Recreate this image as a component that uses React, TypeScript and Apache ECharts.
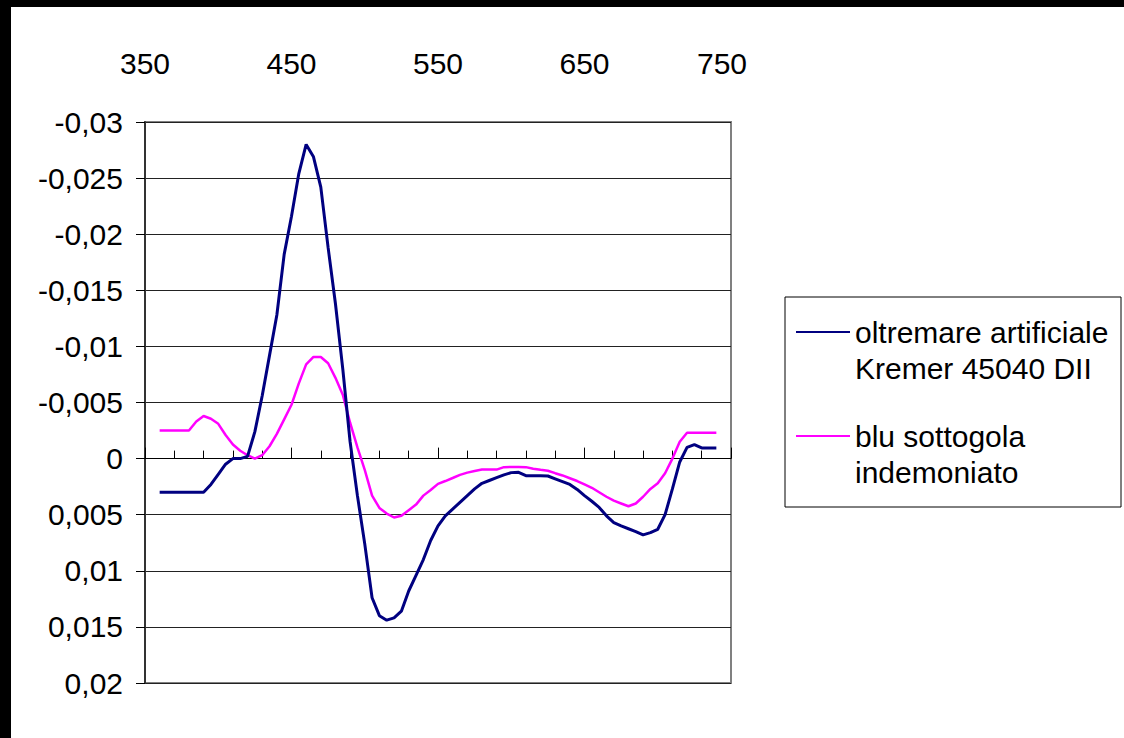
import React, { useEffect, useRef } from "react";
import * as echarts from "echarts";

// wavelengths (nm)
const wavelengths: number[] = [
  360, 365, 370, 375, 380, 385, 390, 395, 400, 405, 410, 415, 420, 425, 430, 435, 440, 445, 450, 455,
  460, 465, 470, 475, 480, 485, 490, 495, 500, 505, 510, 515, 520, 525, 530, 535, 540, 545, 550, 555,
  560, 565, 570, 575, 580, 585, 590, 595, 600, 605, 610, 615, 620, 625, 630, 635, 640, 645, 650, 655,
  660, 665, 670, 675, 680, 685, 690, 695, 700, 705, 710, 715, 720, 725, 730, 735, 740,
];

const seriesNames: string[] = ["oltremare artificiale Kremer 45040 DII", "blu sottogola indemoniato"];
const legendLines: string[][] = [
  ["oltremare artificiale", "Kremer 45040 DII"],
  ["blu sottogola", "indemoniato"],
];
const seriesColors: string[] = ["#000080", "#FF00FF"];

const oltremare: number[] = [
  0.003, 0.003, 0.003, 0.003, 0.003, 0.003, 0.003, 0.0023, 0.0014, 0.0005, 0.0, 0.0, -0.0002, -0.0024,
  -0.0056, -0.0092, -0.0128, -0.0182, -0.0216, -0.0254, -0.028, -0.0269, -0.0242, -0.0188, -0.0138,
  -0.008, -0.0015, 0.0033, 0.0076, 0.0124, 0.014, 0.0144, 0.0142, 0.0136, 0.0118, 0.0104, 0.009,
  0.0073, 0.006, 0.0051, 0.0045, 0.0039, 0.0033, 0.0027, 0.0022, 0.00195, 0.0017, 0.00145, 0.00125,
  0.00122, 0.00152, 0.00152, 0.00152, 0.00155, 0.0018, 0.00205, 0.0023, 0.00275, 0.0033, 0.0038,
  0.00435, 0.0051, 0.0057, 0.006, 0.00625, 0.0065, 0.0068, 0.0066, 0.0063, 0.005, 0.0027, 0.0003,
  -0.001, -0.00125, -0.00095, -0.00095, -0.00095,
];

const sottogola: number[] = [
  -0.0025, -0.0025, -0.0025, -0.0025, -0.0025, -0.0033, -0.0038, -0.00355, -0.0031, -0.0021, -0.00125,
  -0.0007, -0.0003, 0.0, -0.0003, -0.0011, -0.0022, -0.0035, -0.0048, -0.0067, -0.0084, -0.00906,
  -0.00906, -0.0085, -0.0072, -0.0057, -0.0032, -0.001, 0.001, 0.0033, 0.0044, 0.0049, 0.00525, 0.0051,
  0.0046, 0.0041, 0.0033, 0.0028, 0.00225, 0.002, 0.00173, 0.00145, 0.00125, 0.0011, 0.00098, 0.00098,
  0.00098, 0.00076, 0.00074, 0.00074, 0.00076, 0.0009, 0.001, 0.00108, 0.0013, 0.0015, 0.00175, 0.002,
  0.0023, 0.0026, 0.003, 0.0034, 0.00375, 0.004, 0.00425, 0.004, 0.0034, 0.0027, 0.0022, 0.0013, 0.0,
  -0.0015, -0.0023, -0.0023, -0.0023, -0.0023, -0.0023,
];

const FONT = "'Liberation Sans', Arial, sans-serif";

export default function App() {
  const ref = useRef<HTMLDivElement>(null);

  useEffect(() => {
    if (!ref.current) return;
    const chart = echarts.init(ref.current, undefined, { renderer: "svg" });
    const toPairs = (vals: number[]) => wavelengths.map((w, i) => [w, vals[i]]);
    const fmt = (v: number) => String(Math.round(v * 1000) / 1000).replace(".", ",");

    const legendGraphics: any[] = [
      {
        type: "rect",
        shape: { x: 785, y: 297, width: 336, height: 210 },
        style: { fill: "#fff", stroke: "#000", lineWidth: 1 },
      },
    ];
    legendLines.forEach((lines, i) => {
      const y0 = 332 + i * 104;
      legendGraphics.push({
        type: "line",
        shape: { x1: 796, y1: y0, x2: 850, y2: y0 },
        style: { stroke: seriesColors[i], lineWidth: 2 },
      });
      lines.forEach((t, j) => {
        legendGraphics.push({
          type: "text",
          x: 855,
          y: y0 + j * 36,
          style: {
            text: t,
            fill: "#000",
            fontSize: 30,
            fontFamily: FONT,
            verticalAlign: "middle",
            align: "left",
          },
        });
      });
    });

    chart.setOption({
      animation: false,
      backgroundColor: "#fff",
      grid: {
        left: 145,
        right: 393,
        top: 122,
        bottom: 55,
        show: true,
        borderColor: "#808080",
        borderWidth: 2,
        backgroundColor: "#fff",
      },
      xAxis: [
        {
          type: "value",
          min: 350,
          max: 750,
          interval: 100,
          position: "bottom",
          axisLine: { show: true, onZero: true, lineStyle: { color: "#000", width: 1 } },
          axisTick: { show: true, inside: true, length: 11, lineStyle: { color: "#000", width: 1 } },
          minorTick: { show: true, splitNumber: 5, length: 8, lineStyle: { color: "#000", width: 1 } },
          axisLabel: { show: false },
          splitLine: { show: false },
        },
        {
          type: "value",
          min: 350,
          max: 750,
          interval: 100,
          position: "top",
          axisLine: { show: false, onZero: false },
          axisTick: { show: false },
          axisLabel: {
            show: true,
            color: "#000",
            fontSize: 30,
            fontFamily: FONT,
            margin: 44,
            formatter: (v: number) => (v === 750 ? "{r|" + v + "}" : String(v)),
            rich: { r: { fontSize: 30, fontFamily: FONT, color: "#000", padding: [0, 18, 0, 0] } },
          },
          splitLine: { show: false },
        },
      ],
      yAxis: {
        type: "value",
        inverse: true,
        min: -0.03,
        max: 0.02,
        interval: 0.005,
        axisLine: { show: true, lineStyle: { color: "#333", width: 2 } },
        axisTick: { show: true, length: 9, lineStyle: { color: "#000", width: 1 } },
        axisLabel: { color: "#000", fontSize: 30, fontFamily: FONT, margin: 22, formatter: fmt },
        splitLine: { show: true, lineStyle: { color: "#222", width: 1 } },
      },
      series: [
        {
          name: seriesNames[0],
          type: "line",
          xAxisIndex: 0,
          data: toPairs(oltremare),
          showSymbol: false,
          lineStyle: { color: seriesColors[0], width: 3 },
          itemStyle: { color: seriesColors[0] },
          z: 3,
        },
        {
          name: seriesNames[1],
          type: "line",
          xAxisIndex: 0,
          data: toPairs(sottogola),
          showSymbol: false,
          lineStyle: { color: seriesColors[1], width: 2.5 },
          itemStyle: { color: seriesColors[1] },
          z: 2,
        },
      ],
      graphic: [
        { type: "rect", shape: { x: 0, y: 0, width: 1124, height: 7 }, style: { fill: "#000" } },
        { type: "rect", shape: { x: 0, y: 0, width: 11, height: 738 }, style: { fill: "#000" } },
        ...legendGraphics,
      ],
    });
    return () => chart.dispose();
  }, []);

  return (
    <div
      ref={ref}
      style={{ position: "fixed", left: 0, top: 0, width: 1124, height: 738, background: "#fff" }}
    />
  );
}
